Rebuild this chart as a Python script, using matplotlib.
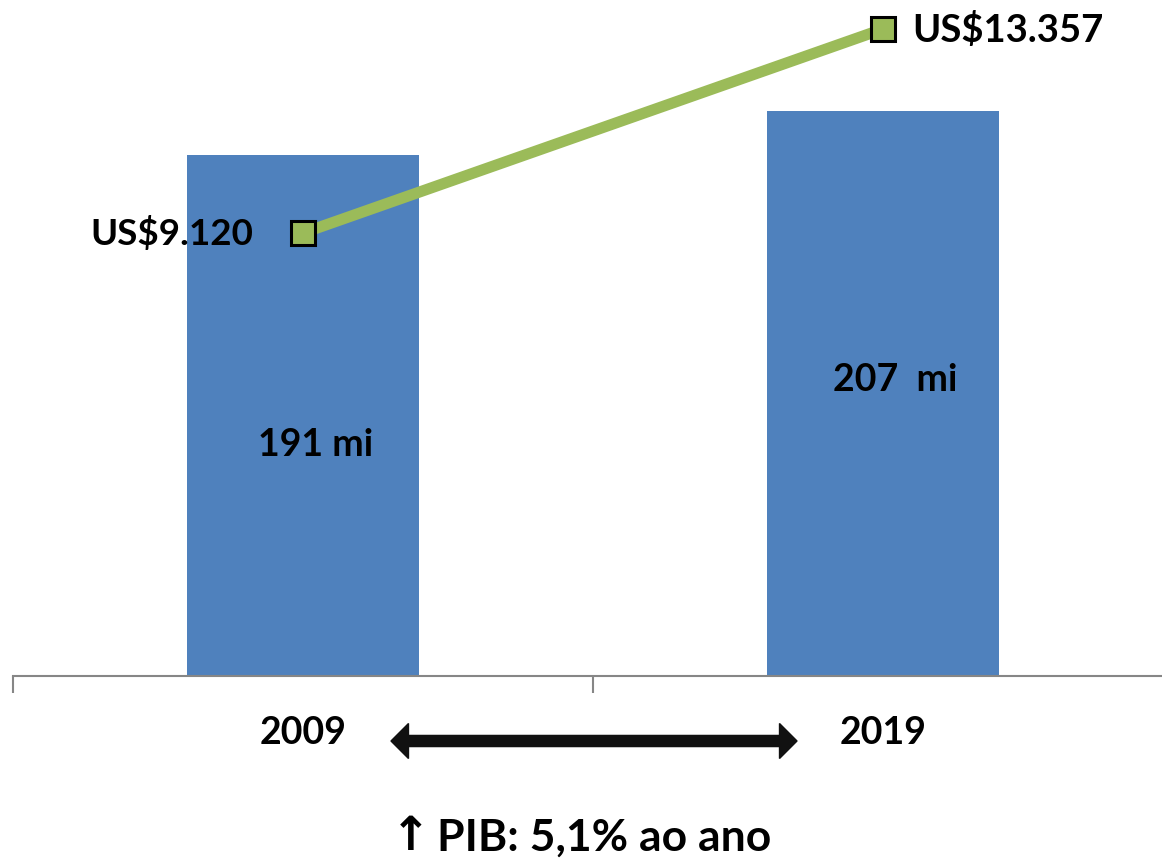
import matplotlib
matplotlib.use("Agg")
import matplotlib.pyplot as plt
from matplotlib.patches import FancyArrowPatch

years = ["2009", "2019"]
population = [191, 207]
pop_labels = ["191 mi", "207  mi"]
pop_label_y = [85, 109]
gdp_pc = [9120, 13357]
gdp_labels = ["US$9.120", "US$13.357"]
footer = "PIB: 5,1% ao ano"

plt.rcParams['font.family'] = ['Lato', 'DejaVu Sans']

fig = plt.figure(figsize=(11.62, 8.62), dpi=100)
W, H = 1162, 862
ax = fig.add_axes([13 / W, 1 - 677 / H, 1160 / W, 677 / H])
x = [0, 1]
ax.bar(x, population, width=0.4, color="#4f81bd", zorder=2)
ax.set_xlim(-0.5, 1.5)
ax.set_ylim(0, 677 / 2.728)
for s in ["top", "right", "left"]:
    ax.spines[s].set_visible(False)
ax.spines["bottom"].set_color("#868686")
ax.spines["bottom"].set_linewidth(1.5)
ax.set_yticks([])
ax.set_xticks([-0.5, 0.5, 1.5])
ax.set_xticklabels([])
ax.tick_params(axis="x", length=12, width=1.5, color="#868686")

for xi, lab, ly in zip(x, pop_labels, pop_label_y):
    ax.text(xi + 0.021, ly, lab, ha="center", va="center", fontsize=27,
            fontweight="bold", color="black", zorder=4)

ax2 = ax.twinx()
ppu = (234 - 30) / (gdp_pc[1] - gdp_pc[0])
lo = gdp_pc[0] - (677 - 234) / ppu
hi = gdp_pc[1] + 30 / ppu
ax2.set_ylim(lo, hi)
ax2.plot(x, gdp_pc, color="#9bbb59", linewidth=8, zorder=3,
         marker="s", markersize=17, markerfacecolor="#9bbb59",
         markeredgecolor="black", markeredgewidth=2.2)
ax2.axis("off")
ax2.text(-0.085, gdp_pc[0], gdp_labels[0], ha="right", va="center", fontsize=26.5, fontweight="bold")
ax2.text(1.05, gdp_pc[1], gdp_labels[1], ha="left", va="center", fontsize=27.5, fontweight="bold")

# category labels
fig.text(303 / W, 1 - 733 / H, years[0], ha="center", va="center", fontsize=27, fontweight="bold")
fig.text(883 / W, 1 - 733 / H, years[1], ha="center", va="center", fontsize=27, fontweight="bold")

# double-headed arrow
fig.patches.append(FancyArrowPatch(
    (390 / W, 1 - 742 / H), (798 / W, 1 - 742 / H), transform=fig.transFigure,
    arrowstyle="<|-|>,head_length=0.45,head_width=0.45", mutation_scale=28,
    color="#111111", linewidth=1, capstyle="butt", joinstyle="miter", shrinkA=0, shrinkB=0))
fig.patches.append(FancyArrowPatch(
    (400 / W, 1 - 742 / H), (788 / W, 1 - 742 / H), transform=fig.transFigure,
    arrowstyle="-", color="#111111", linewidth=9, capstyle="butt", shrinkA=0, shrinkB=0))

# footer
fig.text(411 / W, 1 - 838 / H, "↑", ha="center", va="center", fontsize=34, fontweight="bold",
         family=['DejaVu Sans'])
fig.text(437 / W, 1 - 838 / H, footer, ha="left", va="center", fontsize=32, fontweight="bold")

fig.savefig("out.png", dpi=100)
